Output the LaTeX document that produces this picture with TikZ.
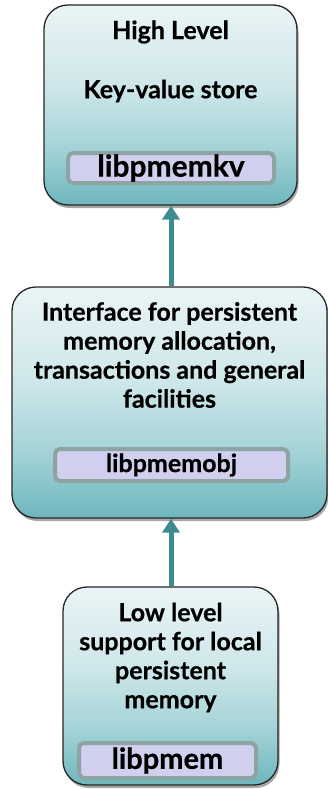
\documentclass[tikz,border=0pt]{standalone}
\usepackage{fontspec}
\setmainfont{Lato}[BoldFeatures={FakeBold=0.6}]
\usetikzlibrary{arrows.meta,shadows}
\definecolor{tealL}{HTML}{EAF4F6}
\definecolor{tealM}{HTML}{CFE7EA}
\definecolor{tealN}{HTML}{A6D4D8}
\definecolor{tealB}{HTML}{6EB7BD}
\definecolor{libfill}{HTML}{D0CFEE}
\definecolor{libdraw}{HTML}{8EA3A3}
\definecolor{arrcol}{HTML}{3E8C90}
\pgfdeclareverticalshading{boxshade}{100bp}{color(0bp)=(tealB); color(25bp)=(tealB); color(40bp)=(tealN); color(55bp)=(tealM); color(75bp)=(tealL); color(100bp)=(tealL)}
\tikzset{
  layerbox/.style={draw=black!85, line width=1.3pt, rounded corners=24pt, shading=boxshade,
    drop shadow={shadow xshift=1.5pt, shadow yshift=-3pt, opacity=0.35, fill=black}},
  libbox/.style={draw=libdraw, fill=libfill, line width=4pt, rounded corners=5pt, inner sep=0pt},
  libbig/.style={libbox, font=\bfseries\fontsize{30}{30}\selectfont},
  libmid/.style={libbox, font=\bfseries\fontsize{25}{26}\selectfont},
  libsmall/.style={libbox, font=\bfseries\fontsize{29}{30}\selectfont},
  txt/.style={font=\bfseries\fontsize{25}{29}\selectfont, align=center, inner sep=0pt},
  arr/.style={draw=arrcol, line width=5pt, -{Triangle[width=17pt,length=14pt]}}
}
\begin{document}
\begin{tikzpicture}[x=1pt,y=-1pt]
\useasboundingbox (0,0) rectangle (328,789);
\node[layerbox, minimum width=253pt, minimum height=200pt] (top) at (170.5,105) {};
\node[layerbox, minimum width=315pt, minimum height=231pt] (mid) at (169.5,402.5) {};
\node[layerbox, minimum width=215pt, minimum height=198pt] (bot) at (170.5,686) {};
\node[txt] (t1) at (170.5,32) {High Level};
\node[txt] (t2) at (170.5,91) {Key-value store};
\node[libbig, minimum width=206pt, minimum height=30pt] (kv) at (171,168) {libpmemkv};
\node[txt] (m1) at (169.5,355) {Interface for persistent\\memory allocation,\\transactions and general\\facilities};
\node[libmid, minimum width=233pt, minimum height=32pt] (obj) at (171.5,465) {libpmemobj};
\node[txt] (b1) at (170.5,657.5) {Low level\\support for local\\persistent\\memory};
\node[libsmall, minimum width=177pt, minimum height=35pt] (pm) at (167.5,760.5) {libpmem};
\draw[arr] (mid.north -| 171,0) -- (top.south -| 171,0);
\draw[arr] (bot.north -| 171,0) -- (mid.south -| 171,0);
\end{tikzpicture}
\end{document}
